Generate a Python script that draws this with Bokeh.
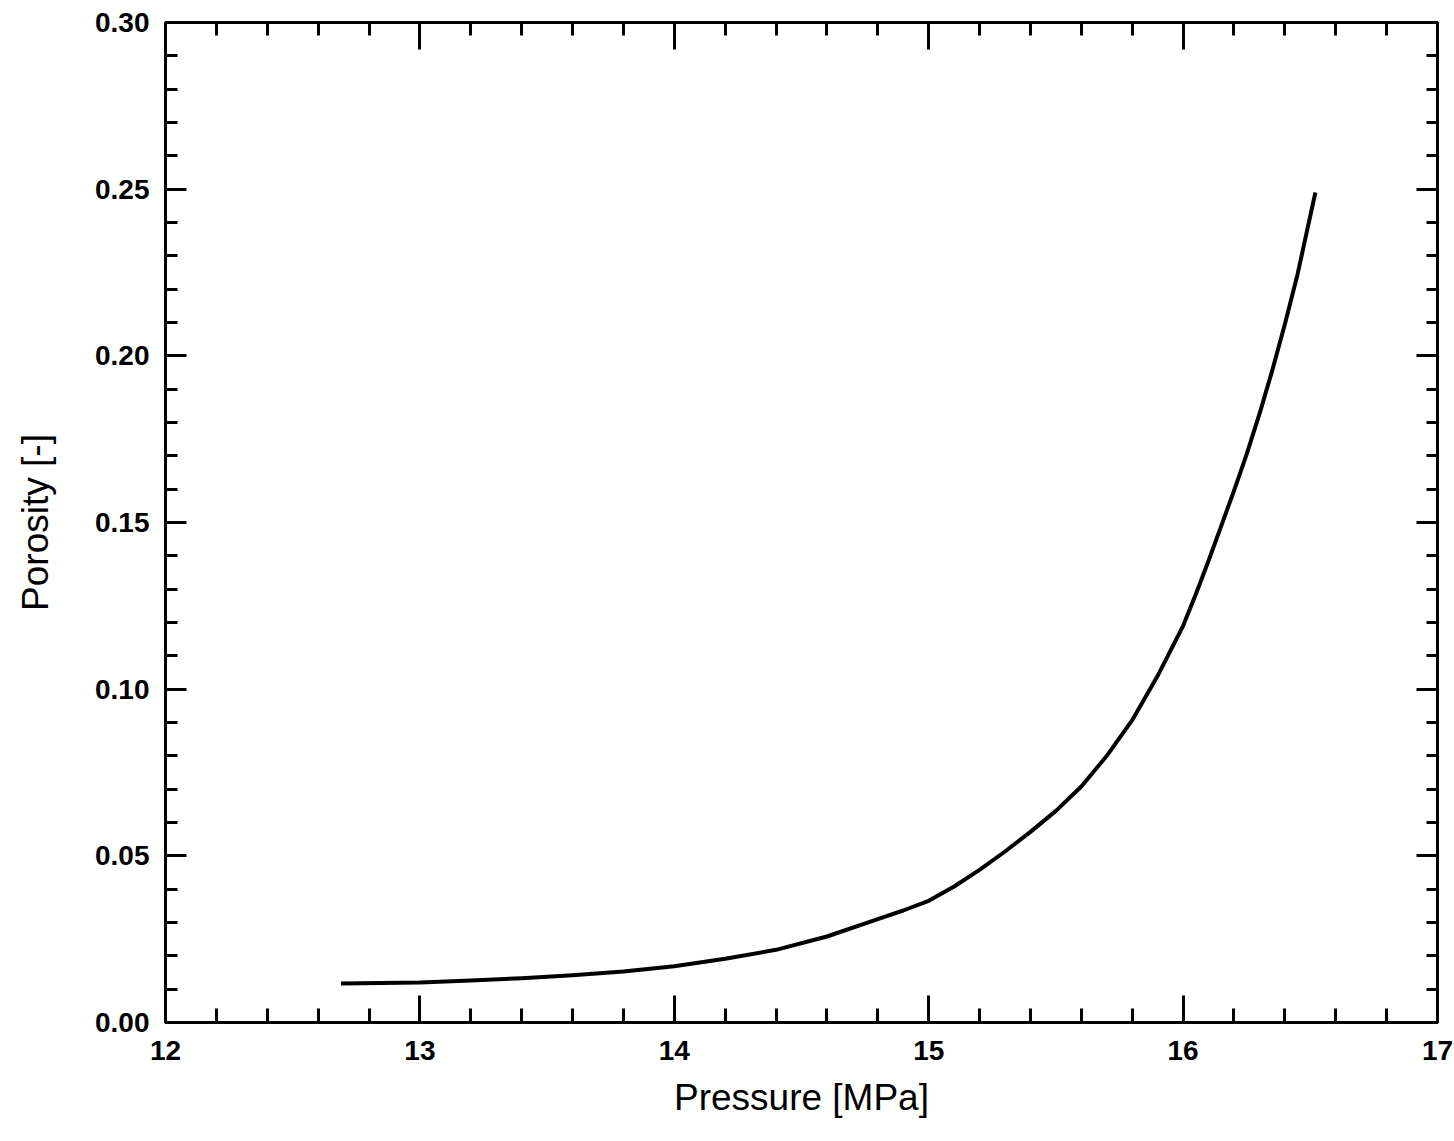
from bokeh.plotting import figure
from bokeh.models import (Range1d, LinearAxis, SingleIntervalTicker, NumeralTickFormatter,
                          CustomJSTickFormatter, ColumnDataSource)
from bokeh.embed import file_html
from bokeh.resources import INLINE

# Data
pressure = [12.69, 13.0, 13.2, 13.4, 13.6, 13.8, 14.0, 14.2, 14.4, 14.6, 14.8, 14.9,
            15.0, 15.1, 15.2, 15.3, 15.4, 15.5, 15.6, 15.7, 15.8, 15.9, 16.0, 16.05,
            16.1, 16.15, 16.2, 16.25, 16.3, 16.35, 16.4, 16.45, 16.48, 16.52]
porosity = [0.0117, 0.0120, 0.0126, 0.0133, 0.0142, 0.0153, 0.0169, 0.0191, 0.0218,
            0.0258, 0.0310, 0.0336, 0.0365, 0.0408, 0.0458, 0.0513, 0.0572, 0.0635,
            0.0708, 0.0800, 0.0907, 0.1040, 0.1190, 0.1285, 0.1385, 0.1490, 0.1595,
            0.1705, 0.1825, 0.1955, 0.2095, 0.2245, 0.2350, 0.2490]

x_label = "Pressure [MPa]"
y_label = "Porosity [-]"

FONT = "Liberation Sans"

p = figure(width=1454, height=1141, frame_width=1272, frame_height=1000,
           x_range=Range1d(12, 17.00001), y_range=Range1d(0, 0.3000001),
           output_backend="svg", toolbar_location=None,
           x_axis_label=x_label, y_axis_label=y_label,
           min_border_left=165, min_border_right=17, min_border_top=22, min_border_bottom=119)

p.grid.visible = False
p.outline_line_color = "black"
p.outline_line_width = 3
p.background_fill_color = "white"
p.border_fill_color = "white"

src = ColumnDataSource(dict(x=pressure, y=porosity))
p.line("x", "y", source=src, line_color="black", line_width=4, line_join="round")

def style(ax, ticker, major_in, minor_in, labels=True):
    ax.ticker = ticker
    ax.axis_line_color = "black"
    ax.axis_line_width = 3
    ax.major_tick_in = major_in
    ax.major_tick_out = 0
    ax.minor_tick_in = minor_in
    ax.minor_tick_out = 0
    ax.major_tick_line_width = 3
    ax.minor_tick_line_width = 3
    ax.major_tick_line_color = "black"
    ax.minor_tick_line_color = "black"
    if labels:
        ax.major_label_text_font = FONT
        ax.major_label_text_font_size = "28px"
        ax.major_label_text_font_style = "bold"
        ax.major_label_text_color = "black"
        ax.axis_label_text_font = FONT
        ax.axis_label_text_font_size = "37px"
        ax.axis_label_text_font_style = "normal"
        ax.axis_label_text_color = "black"
    else:
        ax.formatter = CustomJSTickFormatter(code="return '';")
        ax.major_label_standoff = 0

xa = p.xaxis[0]
ya = p.yaxis[0]
style(xa, SingleIntervalTicker(interval=1, num_minor_ticks=5), 27, 14)
style(ya, SingleIntervalTicker(interval=0.05, num_minor_ticks=5), 21, 12)
xa.formatter = NumeralTickFormatter(format="0")
ya.formatter = NumeralTickFormatter(format="0.00")
xa.major_label_standoff = 18
ya.major_label_standoff = 16
xa.axis_label_standoff = 14
ya.axis_label_standoff = 36

top = LinearAxis()
right = LinearAxis()
style(top, SingleIntervalTicker(interval=1, num_minor_ticks=5), 27, 13, labels=False)
style(right, SingleIntervalTicker(interval=0.05, num_minor_ticks=5), 21, 11, labels=False)
p.add_layout(top, "above")
p.add_layout(right, "right")

open("out.html", "w").write(file_html(p, INLINE))
